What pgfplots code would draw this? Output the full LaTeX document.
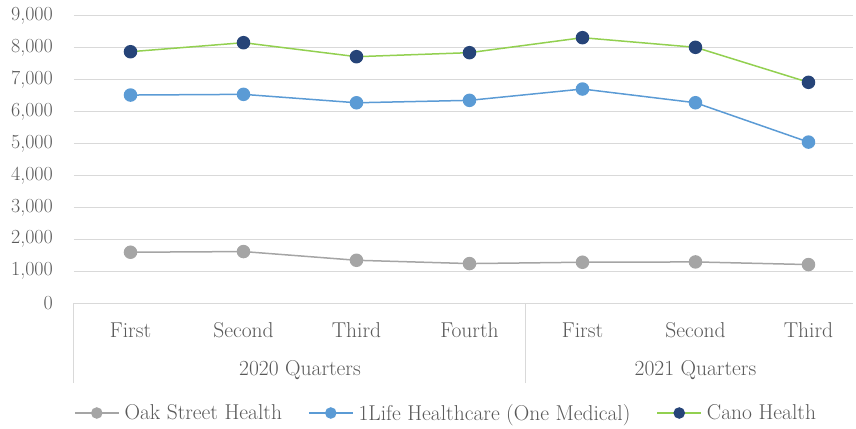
\documentclass[border=0pt]{standalone}
\usepackage{pgfplots}
\pgfplotsset{compat=1.18}
\definecolor{txt}{HTML}{595959}
\definecolor{gridc}{HTML}{D9D9D9}
\definecolor{oak}{HTML}{A5A5A5}
\definecolor{onelife}{HTML}{5B9BD5}
\definecolor{canoline}{HTML}{92D050}
\definecolor{canomark}{HTML}{264478}
\newcommand{\fs}{\fontsize{20bp}{23bp}\selectfont}
\newcommand{\fw}{\fontsize{21.5bp}{24bp}\selectfont}
\begin{document}
\begin{tikzpicture}
\begin{axis}[
  scale only axis,
  width=779bp, height=287bp,
  xmin=-0.5, xmax=6.394,
  ymin=0, ymax=9000,
  ytick={0,1000,...,9000},
  xtick={0,1,2,3,4,5,6},
  xticklabels={First,Second,Third,Fourth,First,Second,Third},
  extra x ticks={-0.5,3.5},
  extra x tick labels={},
  extra x tick style={major tick length=80bp, tick align=outside, xmajorgrids=false,
     major tick style={draw=gridc, line width=1bp}},
  major tick length=0pt,
  axis x line*=bottom,
  axis y line*=left,
  x axis line style={draw=gridc, line width=1bp, -},
  y axis line style={draw=none},
  ymajorgrids,
  grid style={draw=gridc, line width=1bp},
  tick style={draw=none},
  /pgf/number format/1000 sep={,},
  /pgf/number format/assume math mode=true,
  yticklabel style={font=\fs, text=txt, anchor=east, inner sep=0pt, xshift=-21bp},
  xticklabel style={font=\fw, text=txt, anchor=center, inner sep=0pt, yshift=-27bp},
  clip=false,
  legend columns=3,
  legend style={at={(0.4763,-0.3833)}, anchor=center, draw=none, fill=none,
    font=\fw, text=txt, nodes={inner sep=0pt},
    /tikz/every odd column/.append style={column sep=5bp},
    /tikz/every even column/.append style={column sep=26bp}},
  legend image code/.code={\draw[mark repeat=2,mark phase=2,#1,mark size=5bp] plot coordinates {(0bp,0bp) (22bp,0bp) (44bp,0bp)};},
]
\addplot[color=oak, line width=1.5bp, mark=*, mark size=6bp, mark options={draw=oak, fill=oak}]
 coordinates {(0,1592) (1,1613) (2,1340) (3,1236) (4,1278) (5,1288) (6,1205)};
\addlegendentry{Oak Street Health}
\addplot[color=onelife, line width=1.5bp, mark=*, mark size=6bp, mark options={draw=onelife, fill=onelife}]
 coordinates {(0,6521) (1,6543) (2,6279) (3,6355) (4,6710) (5,6280) (6,5046)};
\addlegendentry{1Life Healthcare (One Medical)}
\addplot[color=canoline, line width=1.5bp, mark=*, mark size=6bp, mark options={draw=canomark, fill=canomark}]
 coordinates {(0,7880) (1,8163) (2,7724) (3,7850) (4,8320) (5,8018) (6,6920)};
\addlegendentry{Cano Health}
\node[font=\fw, text=txt, anchor=center] at ([yshift=-67bp]axis cs:1.5,0) {2020 Quarters};
\node[font=\fw, text=txt, anchor=center] at ([yshift=-67bp]axis cs:5,0) {2021 Quarters};
\end{axis}
\pgfresetboundingbox
\path (-74bp,-126bp) rectangle (782bp,303bp);
\end{tikzpicture}
\end{document}
